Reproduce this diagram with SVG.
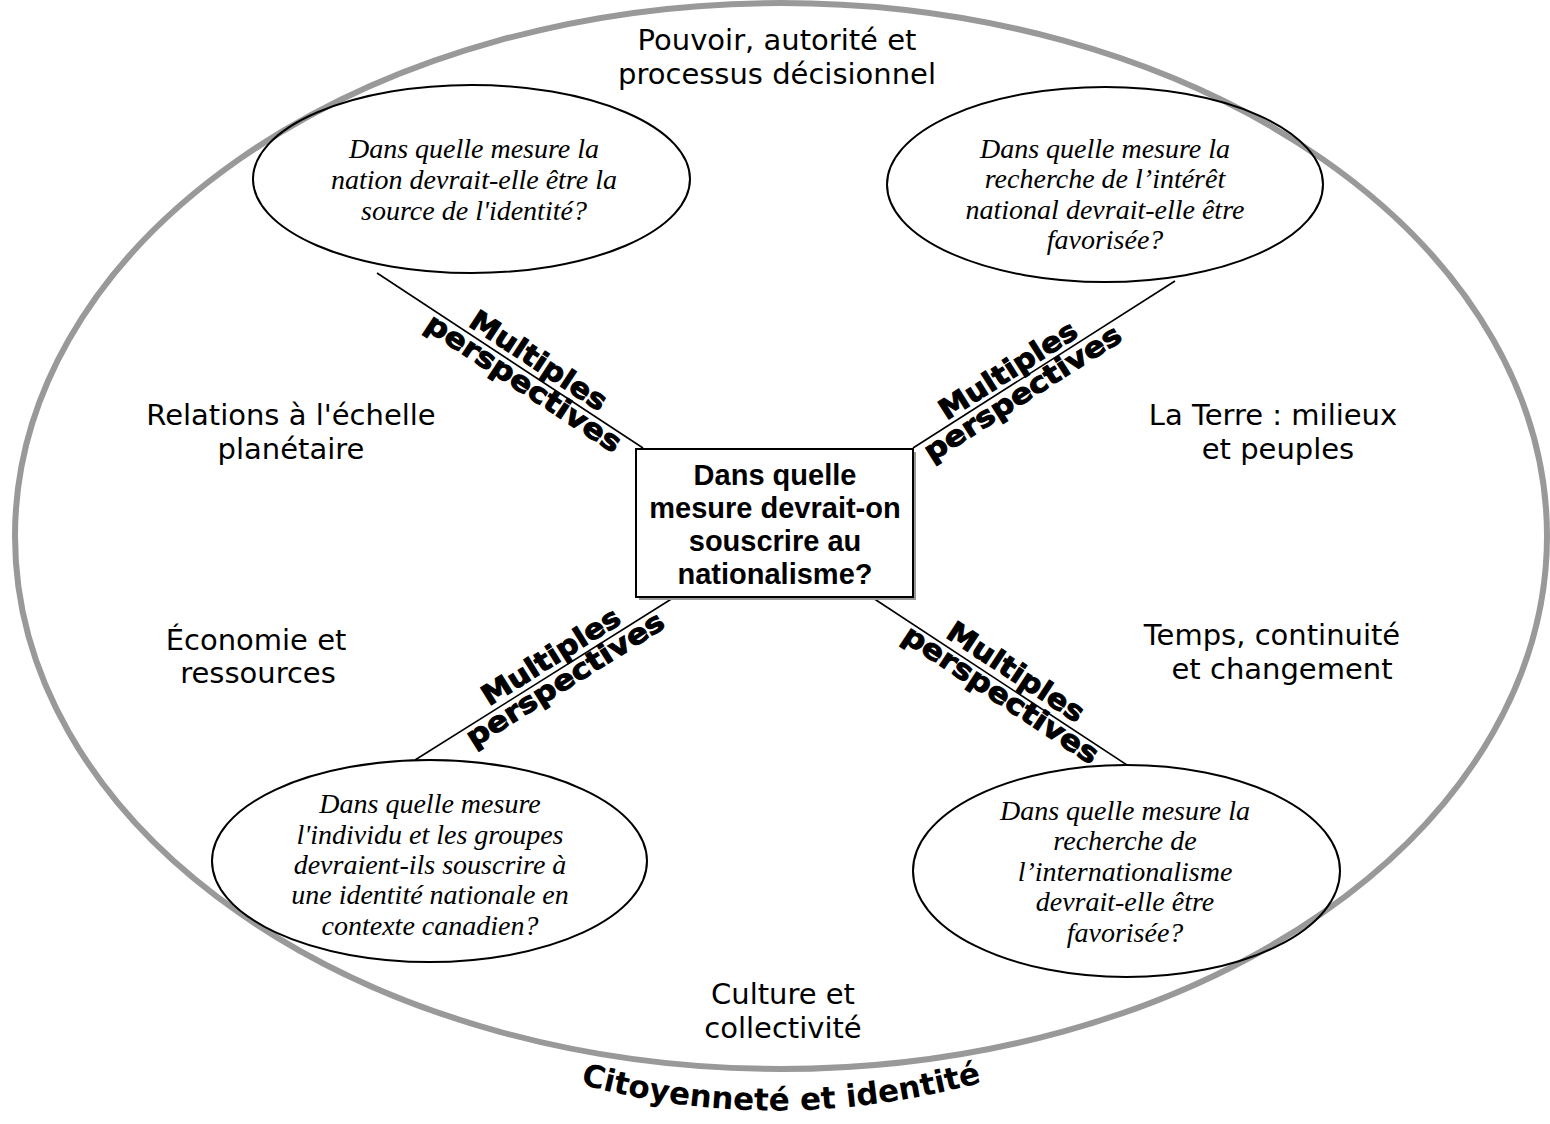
<svg xmlns="http://www.w3.org/2000/svg" width="1550" height="1124" viewBox="0 0 1550 1124">
  <style>
    .theme { font-family: "Comic Sans MS", "DejaVu Sans", sans-serif; font-size: 29px; fill: #000; text-anchor: middle; }
    .q { font-family: "Liberation Serif", "Times New Roman", serif; font-style: italic; font-size: 28px; fill: #000; text-anchor: middle; }
    .central { font-family: "Liberation Sans", Arial, sans-serif; font-weight: bold; font-size: 29px; fill: #000; text-anchor: middle; }
    .mp { font-family: "DejaVu Sans", sans-serif; font-weight: bold; font-size: 28px; fill: #000; stroke: #000; stroke-width: 1; text-anchor: middle; }
    .bubble { fill: none; stroke: #000; stroke-width: 2; }
    .conn { stroke: #000; stroke-width: 1.6; fill: none; }
    .title { font-family: "Comic Sans MS", "DejaVu Sans", sans-serif; font-weight: bold; font-size: 31px; fill: #000; }
  </style>
  <defs>
    <path id="titlePath" d="M 572,1082 Q 778,1140 990,1080"/>
  </defs>
  <rect width="1550" height="1124" fill="#fff"/>

  <g id="frame">
    <ellipse cx="781" cy="536" rx="766" ry="533" fill="none" stroke="#999999" stroke-width="6"/>
    <text class="title"><textPath href="#titlePath" startOffset="50%" text-anchor="middle">Citoyenneté et identité</textPath></text>
  </g>

  <g id="themes">
    <text class="theme" x="777" y="50">Pouvoir, autorité et</text>
    <text class="theme" x="777" y="84">processus décisionnel</text>
    <text class="theme" x="291" y="425">Relations à l'échelle</text>
    <text class="theme" x="291" y="459">planétaire</text>
    <text class="theme" x="1273" y="425">La Terre : milieux</text>
    <text class="theme" x="1278" y="459">et peuples</text>
    <text class="theme" x="256" y="650">Économie et</text>
    <text class="theme" x="258" y="683">ressources</text>
    <text class="theme" x="1272" y="645">Temps, continuité</text>
    <text class="theme" x="1282" y="679">et changement</text>
    <text class="theme" x="783" y="1004">Culture et</text>
    <text class="theme" x="783" y="1038">collectivité</text>
  </g>

  <g id="connectors">
    <line class="conn" x1="377" y1="273" x2="643" y2="448"/>
    <line class="conn" x1="913" y1="448" x2="1175" y2="281"/>
    <line class="conn" x1="673" y1="598" x2="415" y2="760"/>
    <line class="conn" x1="873" y1="598" x2="1127" y2="765"/>
    <g transform="translate(530.5,372.7) rotate(33.3)">
      <text class="mp" x="0" y="-5" textLength="158" lengthAdjust="spacingAndGlyphs">Multiples</text>
      <text class="mp" x="0" y="22" textLength="228" lengthAdjust="spacingAndGlyphs">perspectives</text>
    </g>
    <g transform="translate(1015.8,382.5) rotate(-32.5)">
      <text class="mp" x="0" y="-5" textLength="158" lengthAdjust="spacingAndGlyphs">Multiples</text>
      <text class="mp" x="0" y="22" textLength="228" lengthAdjust="spacingAndGlyphs">perspectives</text>
    </g>
    <g transform="translate(559,669.6) rotate(-32.1)">
      <text class="mp" x="0" y="-6" textLength="158" lengthAdjust="spacingAndGlyphs">Multiples</text>
      <text class="mp" x="0" y="21" textLength="228" lengthAdjust="spacingAndGlyphs">perspectives</text>
    </g>
    <g transform="translate(1006.7,685.8) rotate(33.3)">
      <text class="mp" x="0" y="-7" textLength="158" lengthAdjust="spacingAndGlyphs">Multiples</text>
      <text class="mp" x="0" y="20" textLength="228" lengthAdjust="spacingAndGlyphs">perspectives</text>
    </g>
  </g>

  <g id="central">
    <rect x="639" y="452" width="277" height="148" fill="#999"/>
    <rect x="636" y="449" width="277" height="148" fill="#fff" stroke="#000" stroke-width="2"/>
    <text class="central" x="775" y="485">Dans quelle</text>
    <text class="central" x="775" y="518">mesure devrait-on</text>
    <text class="central" x="775" y="551">souscrire au</text>
    <text class="central" x="775" y="584">nationalisme?</text>
  </g>

  <g id="q-nation">
    <ellipse class="bubble" cx="471.5" cy="179" rx="218.5" ry="94"/>
    <text class="q" x="474" y="158">Dans quelle mesure la</text>
    <text class="q" x="474" y="189">nation devrait-elle être la</text>
    <text class="q" x="474" y="220">source de l'identité?</text>
  </g>

  <g id="q-interet">
    <ellipse class="bubble" cx="1105" cy="184.5" rx="218" ry="97.5"/>
    <text class="q" x="1105" y="158">Dans quelle mesure la</text>
    <text class="q" x="1105" y="188">recherche de l’intérêt</text>
    <text class="q" x="1105" y="219">national devrait-elle être</text>
    <text class="q" x="1105" y="249">favorisée?</text>
  </g>

  <g id="q-individu">
    <ellipse class="bubble" cx="429.5" cy="861" rx="217.5" ry="101"/>
    <text class="q" x="430" y="813">Dans quelle mesure</text>
    <text class="q" x="430" y="844">l'individu et les groupes</text>
    <text class="q" x="430" y="874">devraient-ils souscrire à</text>
    <text class="q" x="430" y="904">une identité nationale en</text>
    <text class="q" x="430" y="935">contexte canadien?</text>
  </g>

  <g id="q-internationalisme">
    <ellipse class="bubble" cx="1126.5" cy="871" rx="213.5" ry="106"/>
    <text class="q" x="1125" y="820">Dans quelle mesure la</text>
    <text class="q" x="1125" y="850">recherche de</text>
    <text class="q" x="1125" y="881">l’internationalisme</text>
    <text class="q" x="1125" y="911">devrait-elle être</text>
    <text class="q" x="1125" y="942">favorisée?</text>
  </g>
</svg>
